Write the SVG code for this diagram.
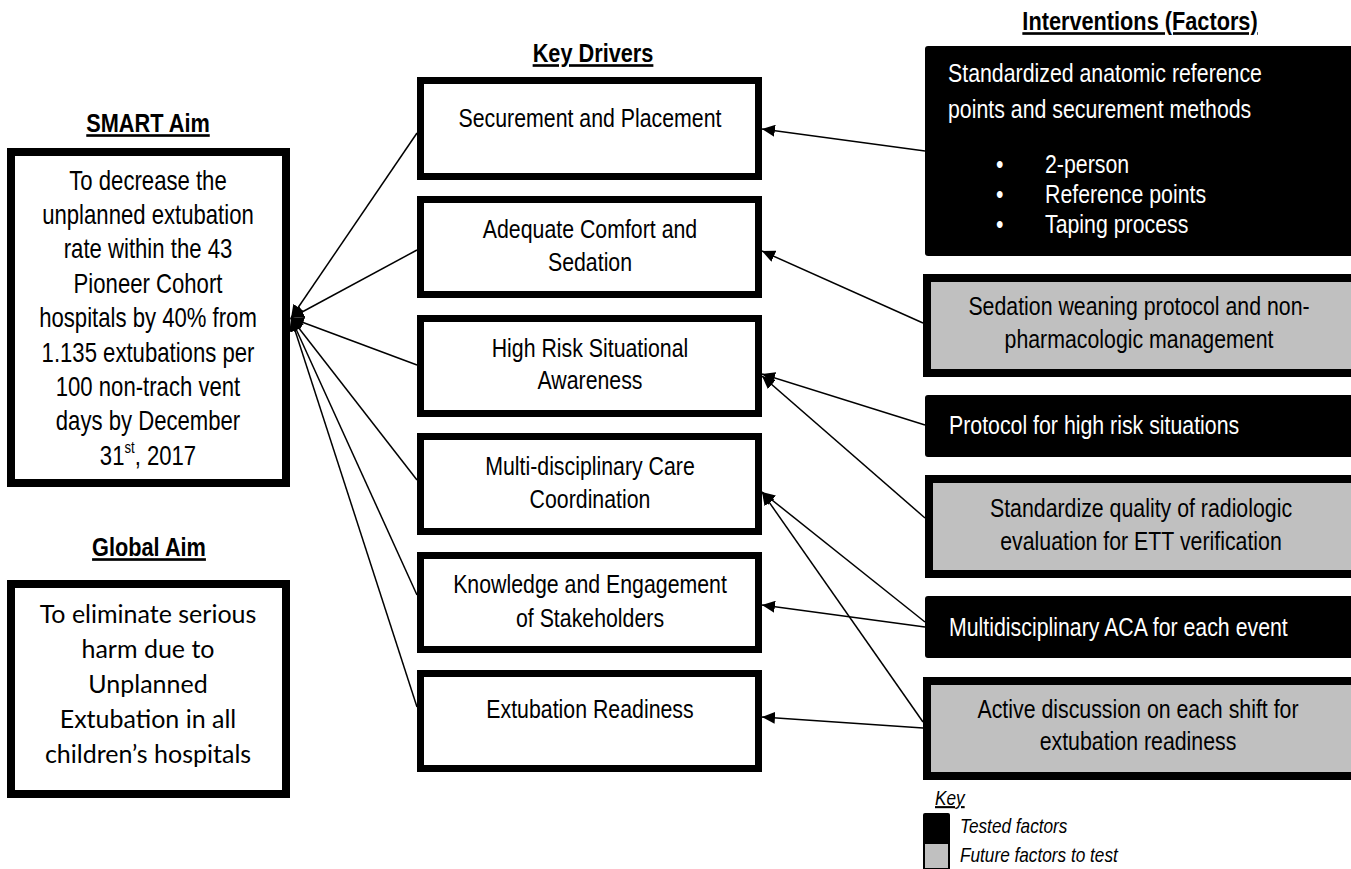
<svg xmlns="http://www.w3.org/2000/svg" width="1351" height="869" viewBox="0 0 1351 869">
<style>
.n{font-family:"Liberation Sans",Arial,sans-serif;fill:#000}
.h{font-family:"Liberation Sans",Arial,sans-serif;font-weight:bold;font-size:26.5px;text-decoration:underline;text-anchor:middle}
.aim{font-size:27px;text-anchor:middle}
.drv{font-size:26px;text-anchor:middle}
.int{font-size:26px}
.w{fill:#fff}
.c{text-anchor:middle}
.g{font-family:Lato,"Open Sans",sans-serif;font-size:25px;text-anchor:middle}
.box{fill:#fff;stroke:#000;stroke-width:7}
.abox{fill:#fff;stroke:#000;stroke-width:8}
.blk{fill:#000}
.gry{fill:#c0c0c0;stroke:#000;stroke-width:8}
.ln{stroke:#000;stroke-width:1.5;fill:none;marker-end:url(#ah)}
.key{font-style:italic;font-size:21px}
</style>
<defs>
<marker id="ah" markerUnits="userSpaceOnUse" markerWidth="13" markerHeight="12" refX="13" refY="6" orient="auto">
<path d="M0,0 L13,6 L0,12 Z" fill="#000"/>
</marker>
</defs>
<rect width="1351" height="869" fill="#fff"/>

<text class="h" transform="translate(148,132) scale(0.82,1)">SMART Aim</text>
<text class="h" transform="translate(149,556) scale(0.82,1)">Global Aim</text>
<text class="h" transform="translate(593,62) scale(0.82,1)">Key Drivers</text>
<text class="h" transform="translate(1140,30) scale(0.82,1)">Interventions (Factors)</text>

<g id="smart-aim">
<rect class="abox" x="11" y="152" width="275" height="331"/>
<text class="n aim" transform="translate(148,190) scale(0.82,1)">To decrease the</text>
<text class="n aim" transform="translate(148,224) scale(0.82,1)">unplanned extubation</text>
<text class="n aim" transform="translate(148,258) scale(0.82,1)">rate within the 43</text>
<text class="n aim" transform="translate(148,293) scale(0.82,1)">Pioneer Cohort</text>
<text class="n aim" transform="translate(148,327) scale(0.82,1)">hospitals by 40% from</text>
<text class="n aim" transform="translate(148,362) scale(0.82,1)">1.135 extubations per</text>
<text class="n aim" transform="translate(148,396) scale(0.82,1)">100 non-trach vent</text>
<text class="n aim" transform="translate(148,430) scale(0.82,1)">days by December</text>
<text class="n aim" transform="translate(148,465) scale(0.82,1)">31<tspan font-size="16" dy="-12">st</tspan><tspan dy="12">, 2017</tspan></text>
</g>

<g id="global-aim">
<rect class="abox" x="11" y="584" width="275" height="210"/>
<text class="g" x="148" y="623">To eliminate serious</text>
<text class="g" x="148" y="658">harm due to</text>
<text class="g" x="148" y="693">Unplanned</text>
<text class="g" x="148" y="728">Extubation in all</text>
<text class="g" x="148" y="763">children’s hospitals</text>
</g>

<g id="driver-1">
<rect class="box" x="420.5" y="80.5" width="338" height="96"/>
<text class="n drv" transform="translate(590,127) scale(0.82,1)">Securement and Placement</text>
</g>
<g id="driver-2">
<rect class="box" x="420.5" y="199.5" width="338" height="95"/>
<text class="n drv" transform="translate(590,238) scale(0.82,1)">Adequate Comfort and</text>
<text class="n drv" transform="translate(590,271) scale(0.82,1)">Sedation</text>
</g>
<g id="driver-3">
<rect class="box" x="420.5" y="318.5" width="338" height="95"/>
<text class="n drv" transform="translate(590,357) scale(0.82,1)">High Risk Situational</text>
<text class="n drv" transform="translate(590,389) scale(0.82,1)">Awareness</text>
</g>
<g id="driver-4">
<rect class="box" x="420.5" y="436.5" width="338" height="95"/>
<text class="n drv" transform="translate(590,475) scale(0.82,1)">Multi-disciplinary Care</text>
<text class="n drv" transform="translate(590,508) scale(0.82,1)">Coordination</text>
</g>
<g id="driver-5">
<rect class="box" x="420.5" y="555.5" width="338" height="94"/>
<text class="n drv" transform="translate(590,593) scale(0.82,1)">Knowledge and Engagement</text>
<text class="n drv" transform="translate(590,627) scale(0.82,1)">of Stakeholders</text>
</g>
<g id="driver-6">
<rect class="box" x="420.5" y="673.5" width="338" height="95"/>
<text class="n drv" transform="translate(590,718) scale(0.82,1)">Extubation Readiness</text>
</g>

<g id="int-1">
<rect class="blk" x="925" y="46" width="430" height="210" rx="3"/>
<text class="n int w" transform="translate(948,82) scale(0.82,1)">Standardized anatomic reference</text>
<text class="n int w" transform="translate(948,118) scale(0.82,1)">points and securement methods</text>
<text class="n int w" transform="translate(996,173) scale(0.82,1)">•</text>
<text class="n int w" transform="translate(1045,173) scale(0.82,1)">2-person</text>
<text class="n int w" transform="translate(996,203) scale(0.82,1)">•</text>
<text class="n int w" transform="translate(1045,203) scale(0.82,1)">Reference points</text>
<text class="n int w" transform="translate(996,233) scale(0.82,1)">•</text>
<text class="n int w" transform="translate(1045,233) scale(0.82,1)">Taping process</text>
</g>
<g id="int-2">
<rect class="gry" x="927" y="278" width="430" height="95"/>
<text class="n int c" transform="translate(1139,315) scale(0.82,1)">Sedation weaning protocol and non-</text>
<text class="n int c" transform="translate(1139,348) scale(0.82,1)">pharmacologic management</text>
</g>
<g id="int-3">
<rect class="blk" x="925" y="395" width="430" height="62" rx="3"/>
<text class="n int w" transform="translate(949,434) scale(0.82,1)">Protocol for high risk situations</text>
</g>
<g id="int-4">
<rect class="gry" x="929" y="479" width="430" height="95"/>
<text class="n int c" transform="translate(1141,517) scale(0.82,1)">Standardize quality of radiologic</text>
<text class="n int c" transform="translate(1141,550) scale(0.82,1)">evaluation for ETT verification</text>
</g>
<g id="int-5">
<rect class="blk" x="925" y="596" width="430" height="62" rx="3"/>
<text class="n int w" transform="translate(949,636) scale(0.82,1)">Multidisciplinary ACA for each event</text>
</g>
<g id="int-6">
<rect class="gry" x="927" y="681" width="430" height="95"/>
<text class="n int c" transform="translate(1138,718) scale(0.82,1)">Active discussion on each shift for</text>
<text class="n int c" transform="translate(1138,750) scale(0.82,1)">extubation readiness</text>
</g>

<g id="key">
<text class="n key" transform="translate(935,805) scale(0.82,1)" text-decoration="underline">Key</text>
<rect class="blk" x="923" y="813" width="27" height="31" rx="2"/>
<rect x="924" y="843" width="25" height="26" fill="#c0c0c0" stroke="#000" stroke-width="2"/>
<text class="n key" transform="translate(960,833) scale(0.82,1)">Tested factors</text>
<text class="n key" transform="translate(960,862) scale(0.82,1)">Future factors to test</text>
</g>

<g id="connectors">
<line class="ln" x1="417" y1="133" x2="291" y2="318"/>
<line class="ln" x1="417" y1="250" x2="291" y2="318"/>
<line class="ln" x1="417" y1="365" x2="291" y2="318"/>
<line class="ln" x1="417" y1="480" x2="291" y2="318"/>
<line class="ln" x1="417" y1="595" x2="291" y2="318"/>
<line class="ln" x1="417" y1="707" x2="291" y2="318"/>
<line class="ln" x1="925" y1="151" x2="762" y2="129"/>
<line class="ln" x1="923" y1="323" x2="762" y2="251"/>
<line class="ln" x1="925" y1="425" x2="762" y2="374"/>
<line class="ln" x1="925" y1="518" x2="762" y2="376"/>
<line class="ln" x1="925" y1="622" x2="762" y2="492"/>
<line class="ln" x1="923" y1="722" x2="762" y2="492"/>
<line class="ln" x1="925" y1="627" x2="762" y2="605"/>
<line class="ln" x1="923" y1="728" x2="762" y2="717"/>
</g>
</svg>
